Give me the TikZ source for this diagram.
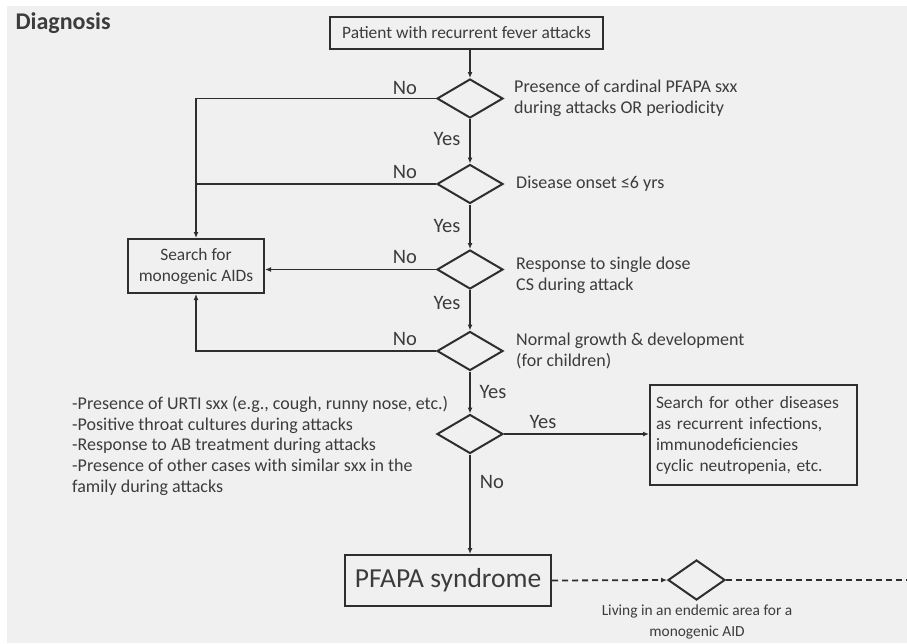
\documentclass[tikz,border=0pt]{standalone}
\usepackage{fontspec}
\setmainfont{Carlito}
\usetikzlibrary{positioning,arrows.meta,shapes.geometric}
\definecolor{bgclr}{HTML}{F0F0F0}
\definecolor{lnclr}{HTML}{2E2E2E}
\definecolor{txclr}{HTML}{3C3C3C}
\tikzset{
  arr/.style={-{Latex[length=6pt,width=5pt]},line width=1.8pt,draw=lnclr},
  conn/.style={line width=1.8pt,draw=lnclr},
  dashconn/.style={line width=1.8pt,draw=lnclr,dash pattern=on 6pt off 4pt},
  flowbox/.style={draw=lnclr,line width=2pt,text=txclr,inner sep=3pt,
    font=\fontsize{17.4}{21}\selectfont},
  dec/.style={diamond,draw=lnclr,line width=2pt,minimum width=66pt,
    minimum height=39pt,inner sep=0pt},
  crit/.style={text=txclr,font=\fontsize{18}{21}\selectfont,align=left,inner sep=2pt},
  ans/.style={text=txclr,font=\fontsize{20.5}{22}\selectfont,inner sep=1pt},
}
\begin{document}
\begin{tikzpicture}[x=1pt,y=-1pt]
  % panel
  \useasboundingbox (0,0) rectangle (907,643);
  \fill[white] (0,0) rectangle (907,643);
  \fill[bgclr] (7,6) rectangle (907,643);
  \node[anchor=west,text=txclr,font=\fontsize{24}{28}\selectfont\bfseries] (title) at (12,23) {Diagnosis};
  % start
  \node[flowbox,minimum width=273pt,minimum height=32pt] (start) at (466.5,33) {Patient with recurrent fever attacks};
  % decisions on the main line
  \node[dec] (d1) at (470,98.5) {};
  \node[dec] (d2) at (470,184) {};
  \node[dec] (d3) at (470,269.5) {};
  \node[dec] (d4) at (470,351) {};
  \node[dec] (d5) at (470,434) {};
  \node[crit,anchor=west,right=8pt of d1] (c1) {Presence of cardinal PFAPA sxx\\during attacks OR periodicity};
  \node[crit,anchor=west,right=10pt of d2] (c2) {Disease onset ≤6 yrs};
  \node[crit,anchor=west,right=10pt of d3,yshift=-6pt] (c3) {Response to single dose\\CS during attack};
  \node[crit,anchor=west,right=10pt of d4] (c4) {Normal growth \& development\\(for children)};
  % boxes
  \node[flowbox,minimum width=136pt,minimum height=54pt,align=center] (aid) at (196,266) {Search for\\monogenic AIDs};
  \node[flowbox,minimum width=207pt,minimum height=100pt,text width=195pt,align=left] (other) at (753.5,435) {Search for other diseases\\as recurrent infections,\\immunodeficiencies\\cyclic neutropenia, etc.};
  \node[flowbox,minimum width=206pt,minimum height=51pt,font=\fontsize{27.5}{32}\selectfont] (pfapa) at (448,580.5) {PFAPA syndrome};
  \node[crit,anchor=north west,font=\fontsize{18}{20.8}\selectfont] (urti) at (70,394) {-Presence of URTI sxx (e.g., cough, runny nose, etc.)\\-Positive throat cultures during attacks\\-Response to AB treatment during attacks\\-Presence of other cases with similar sxx in the\\family during attacks};
  % endemic check
  \node[dec,minimum width=57pt,minimum height=40pt] (d6) at (696.5,580) {};
  \node[crit,align=center,font=\fontsize{15.4}{21}\selectfont] (c6) at (697,622) {Living in an endemic area for a\\monogenic AID};
  \coordinate (edge) at (907,580);
  % main line
  \draw[arr] (start.south -| d1.north) -- (d1.north);
  \draw[arr] (d1.south) -- (d2.north);
  \draw[arr] (d2.south) -- (d3.north);
  \draw[arr] (d3.south) -- (d4.north);
  \draw[arr] (d4.south) -- (d5.north);
  \draw[arr] (d5.south) -- (d5.south |- pfapa.north);
  \node[ans] at (447,139) {Yes};
  \node[ans] at (447,226) {Yes};
  \node[ans] at (447,303) {Yes};
  \node[ans] at (493,392) {Yes};
  \node[ans] at (492,482) {No};
  % no branches
  \draw[arr] (d1.west) -| (aid.north);
  \draw[conn] (d2.west) -- (d2.west -| aid.north);
  \draw[arr] (d3.west) -- (d3.west -| aid.east);
  \draw[arr] (d4.west) -| (aid.south);
  \node[ans] at (405,88) {No};
  \node[ans] at (405,172) {No};
  \node[ans] at (405,257) {No};
  \node[ans] at (405,339) {No};
  % other diseases
  \draw[arr] (d5.east) -- (other.west |- d5.east);
  \node[ans] at (543,422) {Yes};
  % dashed
  \draw[dashconn,-{Latex[length=6pt,width=5pt]}] (pfapa.east) -- (d6.west);
  \draw[dashconn] (d6.east) -- (edge);
\end{tikzpicture}
\end{document}
